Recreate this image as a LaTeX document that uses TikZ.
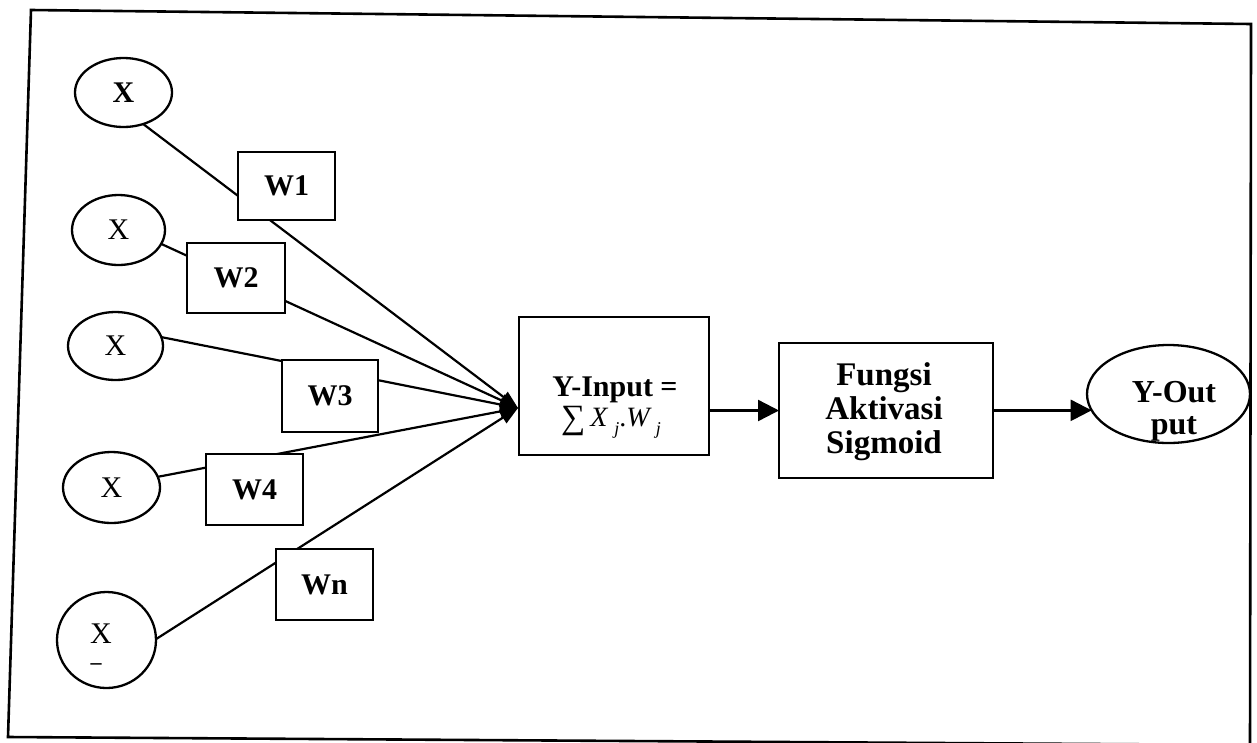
\documentclass[tikz,border=0pt]{standalone}
\usepackage{fontspec}
\setmainfont{Liberation Serif}
\usetikzlibrary{shapes.geometric,arrows.meta}

\begin{document}
\begin{tikzpicture}[x=1pt,y=-1pt,
  every node/.style={inner sep=0pt, outer sep=0pt},
  inball/.style={ellipse, draw, line width=2.3pt, minimum width=97pt, minimum height=70pt,
    font=\fontsize{30}{30}\selectfont},
  wbox/.style={rectangle, draw, fill=white, line width=2.3pt, minimum width=97pt, minimum height=70pt,
    font=\bfseries\fontsize{30}{30}\selectfont},
  blockbox/.style={rectangle, draw, line width=2.3pt},
  wire/.style={line width=2.2pt, -{Triangle[length=18pt,width=13pt]}},
  flow/.style={line width=2.4pt, -{Triangle[length=21pt,width=21pt]}},
  bigtext/.style={align=center, font=\bfseries\fontsize{32}{32}\selectfont}
]
\useasboundingbox (0,0) rectangle (1257,742);
\fill[white] (0,0) rectangle (1257,742);

% outer frame
\draw[line width=2.6pt] (31,10) -- (1251,24) -- (1250,745) -- (8,737) -- cycle;

% inputs
\node[inball, minimum width=97pt, minimum height=69pt] (x1) at (123.5,92.5) {\bfseries X};
\node[inball, minimum width=93pt, minimum height=70pt] (x2) at (118.5,230) {X};
\node[inball, minimum width=95pt, minimum height=68pt] (x3) at (115.5,346) {X};
\node[inball, minimum width=97pt, minimum height=71pt] (x4) at (111.5,487.5) {X};
\node[inball, minimum width=99pt, minimum height=96pt] (x5) at (106.5,640) {};
\node[font=\fontsize{30}{30}\selectfont] (x5lbl) at (101,634) {X};
\node[font=\bfseries\fontsize{22}{22}\selectfont] (x5sub) at (96,667) {–};

% summing junction
\coordinate (conv) at (518,408);

% weighted connections
\draw[wire] (x1.-58) -- (conv);
\draw[wire] (x2.-18) -- (conv);
\draw[wire] (x3.11) -- (conv);
\draw[wire] (x4.13) -- (conv);
\draw[wire] (x5.1) -- (conv);

% weights
\node[wbox, minimum height=68pt] (w1) at (286.5,186) {W1};
\node[wbox, minimum width=98pt] (w2) at (236,278) {W2};
\node[wbox, minimum width=96pt, minimum height=72pt] (w3) at (330,396) {W3};
\node[wbox, minimum height=71pt] (w4) at (254.5,489.5) {W4};
\node[wbox, minimum height=71pt] (wn) at (324.5,584.5) {Wn};

% summation block
\node[blockbox, minimum width=190pt, minimum height=138pt] (yin) at (614,386) {};
\node[font=\bfseries\fontsize{30}{30}\selectfont, anchor=base] (yinlbl) at (615,396) {Y-Input =};
\node[font=\fontsize{28}{28}\selectfont, anchor=base] (yinsum) at (611,426)
  {\raisebox{-2pt}{\fontsize{34}{34}\selectfont ∑}\hspace{5pt}\textit{X}\hspace{6pt}\raisebox{-8pt}{\fontsize{18}{18}\selectfont\textit{j}}.\textit{W}\hspace{4pt}\raisebox{-8pt}{\fontsize{18}{18}\selectfont\textit{j}}};

% activation block
\node[blockbox, minimum width=214pt, minimum height=135pt] (fun) at (886,410.5) {};
\node[bigtext, anchor=base, font=\bfseries\fontsize{33}{34}\selectfont] (funlbl) at (884,453) {Fungsi\\Aktivasi\\Sigmoid};

% output
\node[ellipse, draw, line width=2.3pt, minimum width=163pt, minimum height=98pt] (yout) at (1168.5,394) {};
\node[bigtext, anchor=base] (youtlbl) at (1174,434) {Y-Out\\put};

\draw[flow] (yin.east |- fun.west) -- (fun.west);
\draw[flow] (fun.east |- yout.192) -- (yout.192);
\end{tikzpicture}
\end{document}
